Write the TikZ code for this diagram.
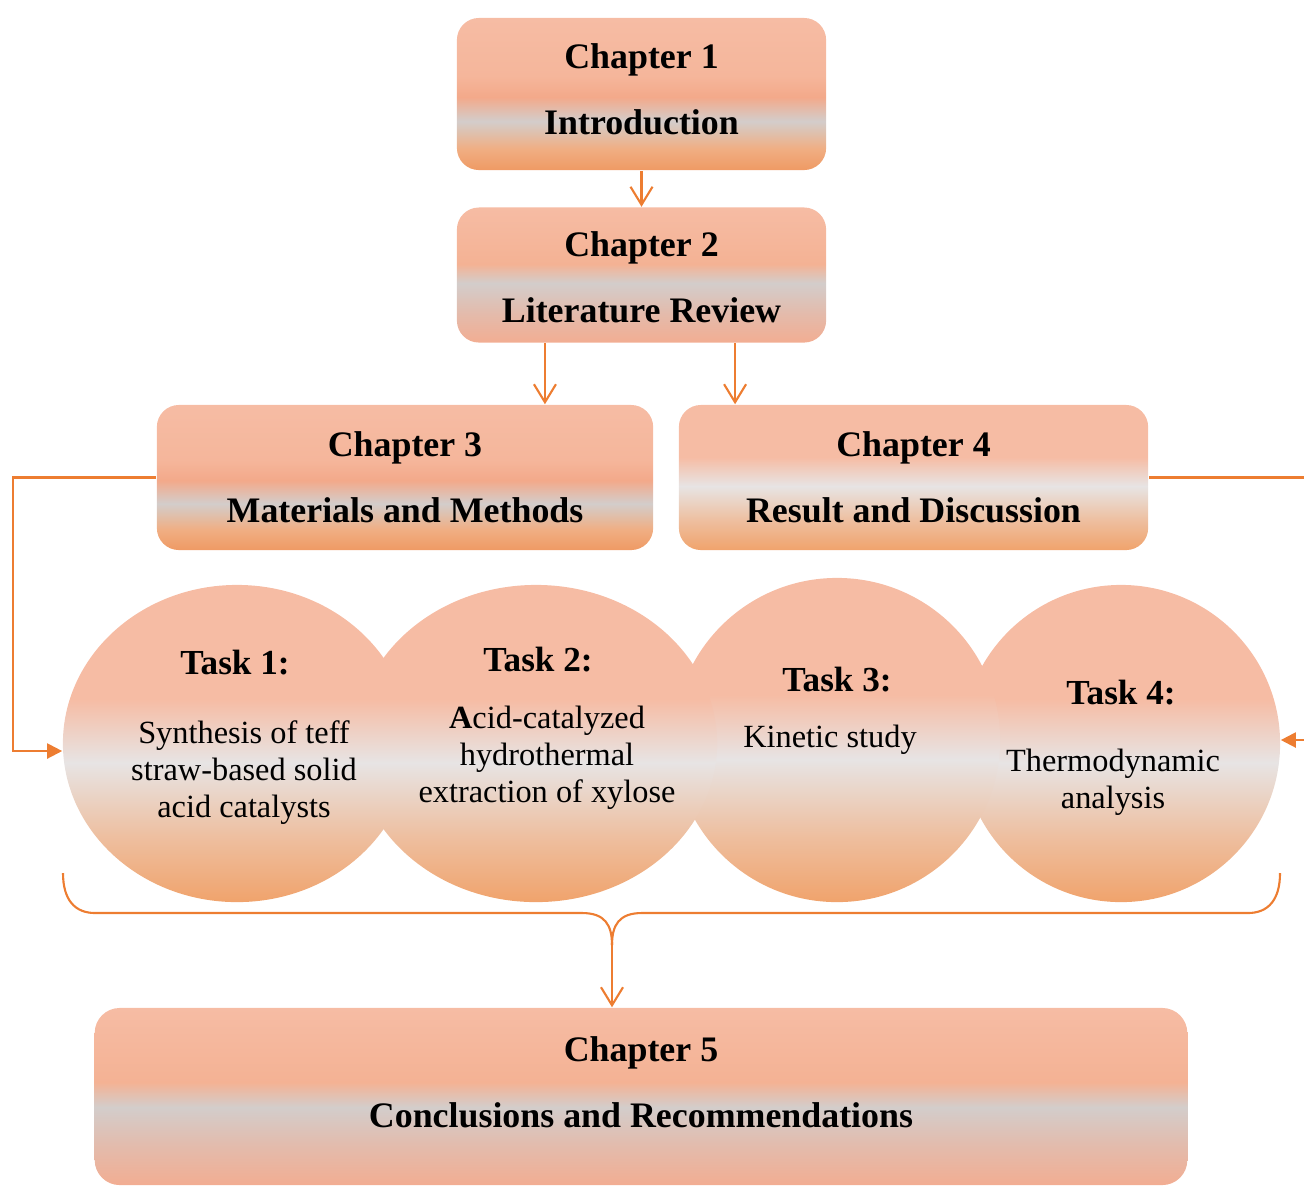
\documentclass[tikz,border=0pt]{standalone}
\usepackage{fontspec}
\setmainfont{Liberation Serif}
\usetikzlibrary{arrows.meta, positioning, shapes.geometric}

\definecolor{lineor}{HTML}{ED7D31}
\definecolor{peach}{HTML}{F6BCA4}
\definecolor{peachmid}{HTML}{F5B69B}
\definecolor{peachdeep}{HTML}{F3A98A}
\definecolor{greyband}{HTML}{D3CDCB}
\definecolor{lightgrey}{HTML}{E7E4E4}
\definecolor{orangesoft}{HTML}{F0AE83}
\definecolor{orangebot}{HTML}{EF9A64}
\definecolor{rosemid}{HTML}{E3BBAC}
\definecolor{rosebot}{HTML}{F2AD92}
\definecolor{peachrose}{HTML}{F4B294}
\definecolor{apricot}{HTML}{EEBE9E}
\definecolor{apricotbot}{HTML}{F0A36C}

% bottom (25bp) to top (75bp)
\pgfdeclareverticalshading{chapshade}{100bp}{color(0bp)=(orangebot); color(25bp)=(orangebot);
  color(32bp)=(orangesoft); color(41bp)=(greyband); color(49bp)=(peachdeep);
  color(56bp)=(peachmid); color(75bp)=(peach); color(100bp)=(peach)}
\pgfdeclareverticalshading{greyshade}{100bp}{color(0bp)=(rosebot); color(25bp)=(rosebot);
  color(36bp)=(rosemid); color(47bp)=(greyband); color(54bp)=(peachrose);
  color(75bp)=(peach); color(100bp)=(peach)}
\pgfdeclareverticalshading{taskshade}{100bp}{color(0bp)=(apricotbot); color(25bp)=(apricotbot);
  color(35bp)=(apricot); color(47bp)=(lightgrey); color(57bp)=(peach);
  color(75bp)=(peach); color(100bp)=(peach)}

\begin{document}
\begin{tikzpicture}[x=0.01cm, y=-0.01cm]

	\tikzset{
		chapbox/.style={
				rectangle, rounded corners=0.22cm, shade, shading=chapshade, inner sep=0pt
			},
		chaptext/.style={
				align=center, inner sep=0pt, font=\fontsize{10.2}{18.8}\selectfont\bfseries
			},
		taskblob/.style={
				ellipse, shade, shading=taskshade, inner sep=0pt
			},
		tasktitle/.style={
				font=\fontsize{10}{12}\selectfont\bfseries, inner sep=0pt
			},
		tasktext/.style={
				font=\fontsize{9.2}{10.5}\selectfont, align=center, inner sep=0pt
			},
		flow/.style={draw=lineor, line width=0.6pt},
		downarr/.style={flow, -{Straight Barb[length=1.8mm, width=2.2mm]}},
		sidearr/.style={flow, -{Triangle[length=1.5mm, width=1.5mm]}},
	}
	\useasboundingbox (0,0) rectangle (1304,1187);

	\node[chapbox, minimum width=3.69cm, minimum height=1.52cm] (ch1) at (641.5,94) {};
	\node[chapbox, shading=greyshade, minimum width=3.69cm, minimum height=1.35cm, below=0.36cm of ch1] (ch2) {};
	\node[chapbox, minimum width=4.96cm, minimum height=1.45cm] (ch3) at (405,477.5) {};
	\node[chapbox, shading=taskshade, minimum width=4.69cm, minimum height=1.45cm] (ch4) at (913.5,477.5) {};

	\node[chaptext] (ch1txt) at ([yshift=0.045cm]ch1.center) {Chapter 1\\Introduction};
	\node[chaptext] (ch2txt) at ([yshift=-0.02cm]ch2.center) {Chapter 2\\Literature Review};
	\node[chaptext] (ch3txt) at (ch3.center) {Chapter 3\\Materials and Methods};
	\node[chaptext] (ch4txt) at (ch4.center) {Chapter 4\\Result and Discussion};

	\node[taskblob, minimum width=3.18cm, minimum height=3.17cm] (t4) at (1121,743.5) {};
	\node[taskblob, minimum width=3.26cm, minimum height=3.24cm] (t3) at (837,740) {};
	\node[taskblob, minimum width=3.48cm, minimum height=3.17cm] (t1) at (237,743.5) {};
	\node[taskblob, minimum width=3.62cm, minimum height=3.17cm] (t2) at (536,743.5) {};

	\node[tasktitle] (t1head) at (235,663) {Task 1:};
	\node[tasktext] (t1text) at (244,773) {Synthesis of teff\\straw-based solid\\acid catalysts};
	\node[tasktitle] (t2head) at (538,660) {Task 2:};
	\node[tasktext] (t2text) at (547,758) {\textbf{A}cid-catalyzed\\hydrothermal\\extraction of xylose};
	\node[tasktitle] (t3head) at (837,680) {Task 3:};
	\node[tasktext] (t3text) at (830,740) {Kinetic study};
	\node[tasktitle] (t4head) at (1121,693) {Task 4:};
	\node[tasktext] (t4text) at (1113,782) {Thermodynamic\\analysis};

	\node[chapbox, shading=greyshade, rounded corners=0.25cm, minimum width=10.92cm, minimum height=1.77cm] (ch5) at (641,1096.5) {};
	\node[chaptext] (ch5txt) at ([yshift=0.14cm]ch5.center) {Chapter 5\\Conclusions and Recommendations};

	\coordinate (lit3) at ([xshift=-0.965cm]ch2.south);
	\coordinate (lit4) at ([xshift=0.935cm]ch2.south);
	\coordinate (lp) at (13,751);
	\coordinate (rp) at (1312,740);
	\coordinate (bl) at (63,873);
	\coordinate (br) at (1280,873);
	\coordinate (bm) at (612,945);

	\draw[downarr] (ch1) -- (ch2);
	\draw[downarr] (lit3) -- (lit3 |- ch3.north);
	\draw[downarr] (lit4) -- (lit4 |- ch4.north);

	\draw[sidearr] (ch3.west) -| (lp) -- (lp -| t1.west);
	\draw[sidearr] (ch4.east) -| (rp) -- (rp -| t4.east);

	\draw[flow] (bl) .. controls (63,900) and (75,913) .. (95,913) -- (582,913)
		.. controls (605,913) and (612,925) .. (bm);
	\draw[flow] (br) .. controls (1280,900) and (1268,913) .. (1248,913) -- (642,913)
		.. controls (619,913) and (612,925) .. (bm);
	\draw[downarr] (bm) -- (bm |- ch5.north);

\end{tikzpicture}
\end{document}
